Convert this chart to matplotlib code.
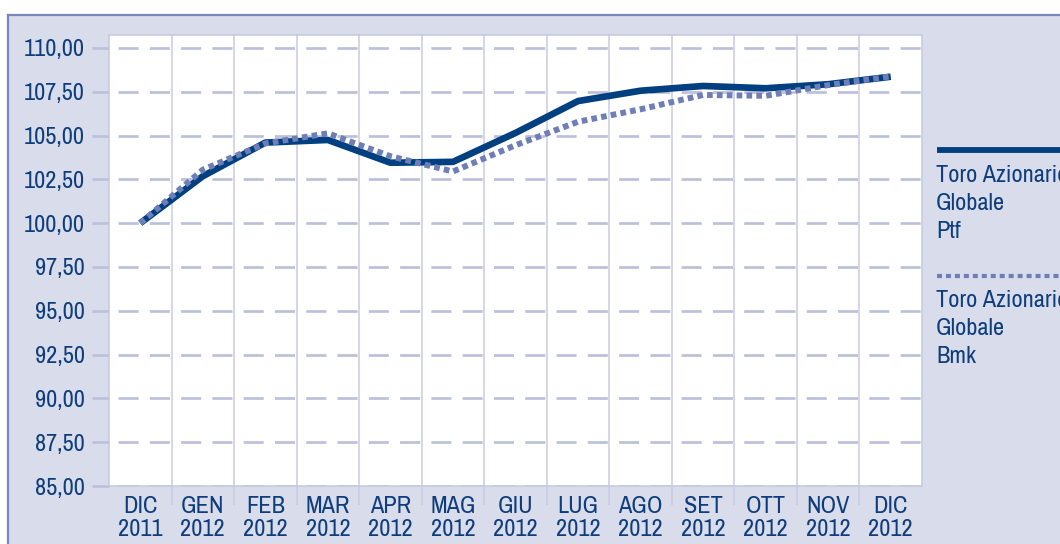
import numpy as np
import matplotlib
matplotlib.use("Agg")
import matplotlib.pyplot as plt
from matplotlib import font_manager as fm
from matplotlib.lines import Line2D
from matplotlib.patches import Rectangle
from matplotlib.ticker import FuncFormatter

# --- data -------------------------------------------------------------
months = ["DIC\n2011", "GEN\n2012", "FEB\n2012", "MAR\n2012", "APR\n2012",
          "MAG\n2012", "GIU\n2012", "LUG\n2012", "AGO\n2012", "SET\n2012",
          "OTT\n2012", "NOV\n2012", "DIC\n2012"]
ptf = [100.00, 102.68, 104.60, 104.75, 103.45, 103.50, 105.15,
       106.97, 107.56, 107.83, 107.70, 107.93, 108.36]
bmk = [100.00, 103.05, 104.55, 105.13, 103.82, 102.95, 104.45,
       105.79, 106.50, 107.32, 107.27, 107.88, 108.38]
y_ticks = np.arange(85, 110.01, 2.5)
legend_labels = ["Toro Azionario\nGlobale\nPtf", "Toro Azionario\nGlobale\nBmk"]

# --- colours ------------------------------------------------------------
PTF_COL = "#003f80"
BMK_COL = "#6e7fb8"
HGRID = "#bcc0db"
VGRID = "#c9cce1"
PANEL = "#d9dcea"
FRAME = "#7a87bc"
TEXT = "#0d3d7c"


def narrow_font(size):
    # the original uses a condensed grotesque; take the narrowest regular face we have
    faces = fm.fontManager.ttflist
    for test in (lambda f: "narrow" in f.name.lower(),
                 lambda f: f.name == "DejaVu Sans" and "condensed" in f.fname.lower(),
                 lambda f: "condensed" in f.name.lower() or "condensed" in f.fname.lower()):
        hits = [f for f in faces if test(f) and f.style == "normal"
                and f.weight in (400, "normal", "regular")]
        if hits:
            return fm.FontProperties(fname=hits[0].fname, size=size)
    return fm.FontProperties(family="Roboto", size=size)


FONT = narrow_font(17.5)

W, H = 1060, 544
fig = plt.figure(figsize=(W / 100, H / 100), dpi=100, facecolor="white")

# lavender panel with a frame on the top and left
fig.add_artist(Rectangle((8 / W, 0), 1, 1 - 15 / H, transform=fig.transFigure,
                         facecolor=PANEL, edgecolor="none", zorder=0))
fig.add_artist(Line2D([8 / W, 1], [1 - 15 / H] * 2, transform=fig.transFigure,
                      color=FRAME, lw=1.6))
fig.add_artist(Line2D([8 / W] * 2, [0, 1 - 15 / H], transform=fig.transFigure,
                      color=FRAME, lw=1.6))

ax = fig.add_axes([109 / W, 58 / H, (922 - 109) / W, (486 - 35) / H])
ax.set_facecolor("white")

x = np.arange(len(months))
ax.plot(x, ptf, color=PTF_COL, lw=4.8, solid_capstyle="butt", zorder=3)
ax.plot(x, bmk, color=BMK_COL, lw=4.3, ls=(0, (0.95, 0.7)), zorder=4)

ax.set_xlim(-0.5, len(months) - 0.5)
ax.set_ylim(85, 110.74)

ax.set_yticks(y_ticks)
ax.yaxis.set_major_formatter(FuncFormatter(lambda v, _: f"{v:.2f}".replace(".", ",")))
ax.tick_params(axis="y", length=12.2, width=1.95, color=HGRID, pad=5,
               labelcolor=TEXT)

ax.set_xticks(x)
ax.set_xticklabels(months, linespacing=1.15)
ax.set_xticks(np.arange(0.5, len(months) - 1, 1), minor=True)
ax.tick_params(axis="x", which="major", length=0, pad=7, labelcolor=TEXT)
ax.tick_params(axis="x", which="minor", length=13.5, width=1.1, color=VGRID)

for lab in ax.get_xticklabels() + ax.get_yticklabels():
    lab.set_fontproperties(FONT)

ax.set_axisbelow(True)
ax.grid(axis="y", which="major", color=HGRID, lw=1.95, ls=(8.2, (7.4, 4.15)))
ax.grid(axis="x", which="minor", color=VGRID, lw=1.1)

for sp in ax.spines.values():
    sp.set_color("#c5c9df")
    sp.set_linewidth(1.1)

# --- legend: sample line above a three-line label, runs off the edge ---
def fy(py):
    return 1 - py / H

fig.add_artist(Line2D([937 / W, 1.0], [fy(150)] * 2, transform=fig.transFigure,
                      color=PTF_COL, lw=4.2, solid_capstyle="butt"))
fig.add_artist(Line2D([937 / W, 1.0], [fy(276)] * 2, transform=fig.transFigure,
                      color=BMK_COL, lw=3.0, ls=(0, (1.2, 0.95))))
for label, top in zip(legend_labels, [165, 290]):
    fig.text(936 / W, fy(top), label, ha="left", va="top", fontproperties=FONT,
             color=TEXT, linespacing=1.42)

fig.savefig("out.png", dpi=100, facecolor="white")
